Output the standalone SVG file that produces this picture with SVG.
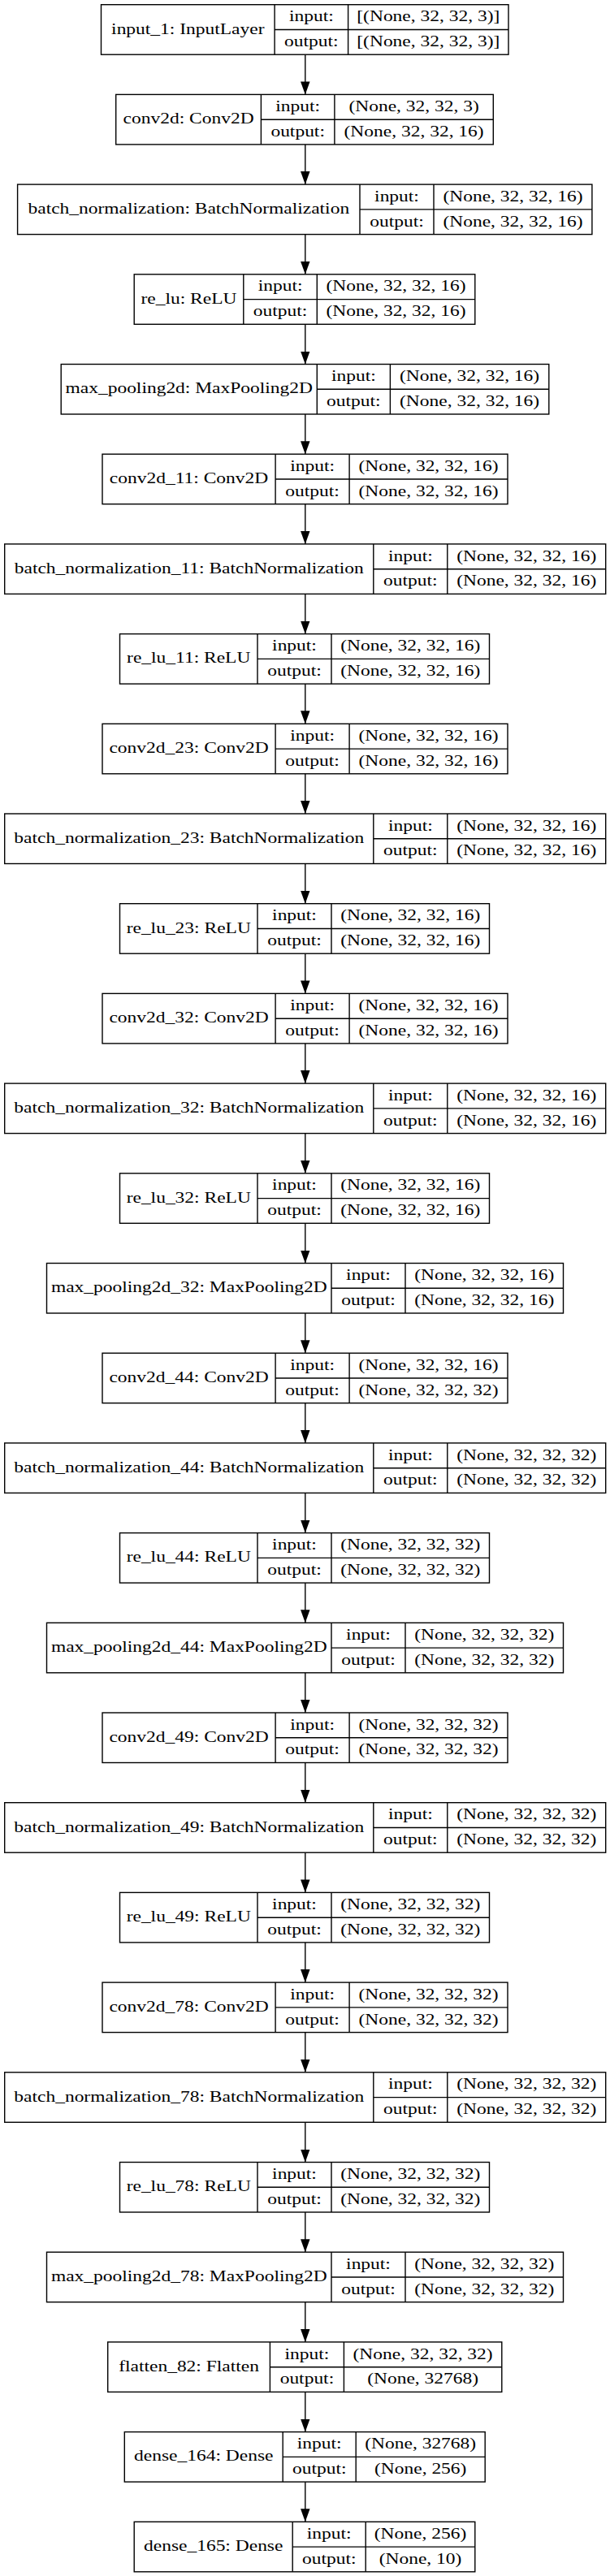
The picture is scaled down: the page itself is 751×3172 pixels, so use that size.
<svg xmlns="http://www.w3.org/2000/svg" width="751" height="3172" viewBox="0 0 751 3172">
<style>
.n rect{fill:#fff;stroke:#000;stroke-width:1.4}
.n path{fill:none;stroke:#000;stroke-width:1.4}
.n text{font-family:"Liberation Serif","Times New Roman",serif;font-size:18.2px;text-anchor:middle;fill:#000}
#edges path{fill:none;stroke:#000;stroke-width:1.4;marker-end:url(#ah)}
</style>
<defs>
<marker id="ah" markerUnits="userSpaceOnUse" viewBox="0 0 16 11.5" markerWidth="16" markerHeight="11.5" refX="16" refY="5.75" orient="auto">
<path d="M0,0L16,5.75L0,11.5z" fill="#000" stroke="none"/>
</marker>
</defs>
<rect x="0" y="0" width="751" height="3172" fill="#fff"/>
<g id="edges">
<path d="M375.8,67.2V116.4"/>
<path d="M375.8,177.9V227.1"/>
<path d="M375.8,288.6V337.8"/>
<path d="M375.8,399.3V448.5"/>
<path d="M375.8,510V559.2"/>
<path d="M375.8,620.7V669.9"/>
<path d="M375.8,731.4V780.6"/>
<path d="M375.8,842.1V891.3"/>
<path d="M375.8,952.8V1002"/>
<path d="M375.8,1063.5V1112.7"/>
<path d="M375.8,1174.2V1223.4"/>
<path d="M375.8,1284.9V1334.1"/>
<path d="M375.8,1395.6V1444.8"/>
<path d="M375.8,1506.3V1555.5"/>
<path d="M375.8,1617V1666.2"/>
<path d="M375.8,1727.7V1776.9"/>
<path d="M375.8,1838.4V1887.6"/>
<path d="M375.8,1949.1V1998.3"/>
<path d="M375.8,2059.8V2109"/>
<path d="M375.8,2170.5V2219.7"/>
<path d="M375.8,2281.2V2330.4"/>
<path d="M375.8,2391.9V2441.1"/>
<path d="M375.8,2502.6V2551.8"/>
<path d="M375.8,2613.3V2662.5"/>
<path d="M375.8,2724V2773.2"/>
<path d="M375.8,2834.7V2883.9"/>
<path d="M375.8,2945.4V2994.6"/>
<path d="M375.8,3056.1V3105.3"/>
</g>

<g id="input_1" class="n" transform="translate(0,5.7)">
<rect x="124.5" y="0" width="501.5" height="61.5"/>
<path d="M338.1,0V61.5M428.6,0V61.5M338.1,30.8H626"/>
<text transform="translate(231.3,35.8) scale(1.29,1)">input_1: InputLayer</text>
<text transform="translate(383.35,20.6) scale(1.29,1)">input:</text>
<text transform="translate(527.3,20.6) scale(1.29,1)">[(None, 32, 32, 3)]</text>
<text transform="translate(383.35,51.4) scale(1.29,1)">output:</text>
<text transform="translate(527.3,51.4) scale(1.29,1)">[(None, 32, 32, 3)]</text>
</g>

<g id="conv2d" class="n" transform="translate(0,116.4)">
<rect x="142.7" y="0" width="464.6" height="61.5"/>
<path d="M321.4,0V61.5M411.9,0V61.5M321.4,30.8H607.3"/>
<text transform="translate(232.05,35.8) scale(1.29,1)">conv2d: Conv2D</text>
<text transform="translate(366.65,20.6) scale(1.29,1)">input:</text>
<text transform="translate(509.6,20.6) scale(1.29,1)">(None, 32, 32, 3)</text>
<text transform="translate(366.65,51.4) scale(1.29,1)">output:</text>
<text transform="translate(509.6,51.4) scale(1.29,1)">(None, 32, 32, 16)</text>
</g>

<g id="batch_normalization" class="n" transform="translate(0,227.1)">
<rect x="21.6" y="0" width="707.3" height="61.5"/>
<path d="M443,0V61.5M534,0V61.5M443,30.8H728.9"/>
<text transform="translate(232.3,35.8) scale(1.29,1)">batch_normalization: BatchNormalization</text>
<text transform="translate(488.5,20.6) scale(1.29,1)">input:</text>
<text transform="translate(631.45,20.6) scale(1.29,1)">(None, 32, 32, 16)</text>
<text transform="translate(488.5,51.4) scale(1.29,1)">output:</text>
<text transform="translate(631.45,51.4) scale(1.29,1)">(None, 32, 32, 16)</text>
</g>

<g id="re_lu" class="n" transform="translate(0,337.8)">
<rect x="165.2" y="0" width="419.6" height="61.5"/>
<path d="M299.8,0V61.5M390.3,0V61.5M299.8,30.8H584.8"/>
<text transform="translate(232.5,35.8) scale(1.29,1)">re_lu: ReLU</text>
<text transform="translate(345.05,20.6) scale(1.29,1)">input:</text>
<text transform="translate(487.55,20.6) scale(1.29,1)">(None, 32, 32, 16)</text>
<text transform="translate(345.05,51.4) scale(1.29,1)">output:</text>
<text transform="translate(487.55,51.4) scale(1.29,1)">(None, 32, 32, 16)</text>
</g>

<g id="max_pooling2d" class="n" transform="translate(0,448.5)">
<rect x="75.2" y="0" width="600.6" height="61.5"/>
<path d="M390.3,0V61.5M480.4,0V61.5M390.3,30.8H675.8"/>
<text transform="translate(232.75,35.8) scale(1.29,1)">max_pooling2d: MaxPooling2D</text>
<text transform="translate(435.35,20.6) scale(1.29,1)">input:</text>
<text transform="translate(578.1,20.6) scale(1.29,1)">(None, 32, 32, 16)</text>
<text transform="translate(435.35,51.4) scale(1.29,1)">output:</text>
<text transform="translate(578.1,51.4) scale(1.29,1)">(None, 32, 32, 16)</text>
</g>

<g id="conv2d_11" class="n" transform="translate(0,559.2)">
<rect x="126" y="0" width="499" height="61.5"/>
<path d="M339.1,0V61.5M430.1,0V61.5M339.1,30.8H625"/>
<text transform="translate(232.55,35.8) scale(1.29,1)">conv2d_11: Conv2D</text>
<text transform="translate(384.6,20.6) scale(1.29,1)">input:</text>
<text transform="translate(527.55,20.6) scale(1.29,1)">(None, 32, 32, 16)</text>
<text transform="translate(384.6,51.4) scale(1.29,1)">output:</text>
<text transform="translate(527.55,51.4) scale(1.29,1)">(None, 32, 32, 16)</text>
</g>

<g id="batch_normalization_11" class="n" transform="translate(0,669.9)">
<rect x="5.7" y="0" width="740" height="61.5"/>
<path d="M459.8,0V61.5M550.8,0V61.5M459.8,30.8H745.7"/>
<text transform="translate(232.75,35.8) scale(1.29,1)">batch_normalization_11: BatchNormalization</text>
<text transform="translate(505.3,20.6) scale(1.29,1)">input:</text>
<text transform="translate(648.25,20.6) scale(1.29,1)">(None, 32, 32, 16)</text>
<text transform="translate(505.3,51.4) scale(1.29,1)">output:</text>
<text transform="translate(648.25,51.4) scale(1.29,1)">(None, 32, 32, 16)</text>
</g>

<g id="re_lu_11" class="n" transform="translate(0,780.6)">
<rect x="147.5" y="0" width="455" height="61.5"/>
<path d="M317,0V61.5M408,0V61.5M317,30.8H602.5"/>
<text transform="translate(232.25,35.8) scale(1.29,1)">re_lu_11: ReLU</text>
<text transform="translate(362.5,20.6) scale(1.29,1)">input:</text>
<text transform="translate(505.25,20.6) scale(1.29,1)">(None, 32, 32, 16)</text>
<text transform="translate(362.5,51.4) scale(1.29,1)">output:</text>
<text transform="translate(505.25,51.4) scale(1.29,1)">(None, 32, 32, 16)</text>
</g>

<g id="conv2d_23" class="n" transform="translate(0,891.3)">
<rect x="126" y="0" width="499" height="61.5"/>
<path d="M339.1,0V61.5M430.1,0V61.5M339.1,30.8H625"/>
<text transform="translate(232.55,35.8) scale(1.29,1)">conv2d_23: Conv2D</text>
<text transform="translate(384.6,20.6) scale(1.29,1)">input:</text>
<text transform="translate(527.55,20.6) scale(1.29,1)">(None, 32, 32, 16)</text>
<text transform="translate(384.6,51.4) scale(1.29,1)">output:</text>
<text transform="translate(527.55,51.4) scale(1.29,1)">(None, 32, 32, 16)</text>
</g>

<g id="batch_normalization_23" class="n" transform="translate(0,1002)">
<rect x="5.7" y="0" width="740" height="61.5"/>
<path d="M459.8,0V61.5M550.8,0V61.5M459.8,30.8H745.7"/>
<text transform="translate(232.75,35.8) scale(1.29,1)">batch_normalization_23: BatchNormalization</text>
<text transform="translate(505.3,20.6) scale(1.29,1)">input:</text>
<text transform="translate(648.25,20.6) scale(1.29,1)">(None, 32, 32, 16)</text>
<text transform="translate(505.3,51.4) scale(1.29,1)">output:</text>
<text transform="translate(648.25,51.4) scale(1.29,1)">(None, 32, 32, 16)</text>
</g>

<g id="re_lu_23" class="n" transform="translate(0,1112.7)">
<rect x="147.5" y="0" width="455" height="61.5"/>
<path d="M317,0V61.5M408,0V61.5M317,30.8H602.5"/>
<text transform="translate(232.25,35.8) scale(1.29,1)">re_lu_23: ReLU</text>
<text transform="translate(362.5,20.6) scale(1.29,1)">input:</text>
<text transform="translate(505.25,20.6) scale(1.29,1)">(None, 32, 32, 16)</text>
<text transform="translate(362.5,51.4) scale(1.29,1)">output:</text>
<text transform="translate(505.25,51.4) scale(1.29,1)">(None, 32, 32, 16)</text>
</g>

<g id="conv2d_32" class="n" transform="translate(0,1223.4)">
<rect x="126" y="0" width="499" height="61.5"/>
<path d="M339.1,0V61.5M430.1,0V61.5M339.1,30.8H625"/>
<text transform="translate(232.55,35.8) scale(1.29,1)">conv2d_32: Conv2D</text>
<text transform="translate(384.6,20.6) scale(1.29,1)">input:</text>
<text transform="translate(527.55,20.6) scale(1.29,1)">(None, 32, 32, 16)</text>
<text transform="translate(384.6,51.4) scale(1.29,1)">output:</text>
<text transform="translate(527.55,51.4) scale(1.29,1)">(None, 32, 32, 16)</text>
</g>

<g id="batch_normalization_32" class="n" transform="translate(0,1334.1)">
<rect x="5.7" y="0" width="740" height="61.5"/>
<path d="M459.8,0V61.5M550.8,0V61.5M459.8,30.8H745.7"/>
<text transform="translate(232.75,35.8) scale(1.29,1)">batch_normalization_32: BatchNormalization</text>
<text transform="translate(505.3,20.6) scale(1.29,1)">input:</text>
<text transform="translate(648.25,20.6) scale(1.29,1)">(None, 32, 32, 16)</text>
<text transform="translate(505.3,51.4) scale(1.29,1)">output:</text>
<text transform="translate(648.25,51.4) scale(1.29,1)">(None, 32, 32, 16)</text>
</g>

<g id="re_lu_32" class="n" transform="translate(0,1444.8)">
<rect x="147.5" y="0" width="455" height="61.5"/>
<path d="M317,0V61.5M408,0V61.5M317,30.8H602.5"/>
<text transform="translate(232.25,35.8) scale(1.29,1)">re_lu_32: ReLU</text>
<text transform="translate(362.5,20.6) scale(1.29,1)">input:</text>
<text transform="translate(505.25,20.6) scale(1.29,1)">(None, 32, 32, 16)</text>
<text transform="translate(362.5,51.4) scale(1.29,1)">output:</text>
<text transform="translate(505.25,51.4) scale(1.29,1)">(None, 32, 32, 16)</text>
</g>

<g id="max_pooling2d_32" class="n" transform="translate(0,1555.5)">
<rect x="57.5" y="0" width="636" height="61.5"/>
<path d="M408,0V61.5M499,0V61.5M408,30.8H693.5"/>
<text transform="translate(232.75,35.8) scale(1.29,1)">max_pooling2d_32: MaxPooling2D</text>
<text transform="translate(453.5,20.6) scale(1.29,1)">input:</text>
<text transform="translate(596.25,20.6) scale(1.29,1)">(None, 32, 32, 16)</text>
<text transform="translate(453.5,51.4) scale(1.29,1)">output:</text>
<text transform="translate(596.25,51.4) scale(1.29,1)">(None, 32, 32, 16)</text>
</g>

<g id="conv2d_44" class="n" transform="translate(0,1666.2)">
<rect x="126" y="0" width="499" height="61.5"/>
<path d="M339.1,0V61.5M430.1,0V61.5M339.1,30.8H625"/>
<text transform="translate(232.55,35.8) scale(1.29,1)">conv2d_44: Conv2D</text>
<text transform="translate(384.6,20.6) scale(1.29,1)">input:</text>
<text transform="translate(527.55,20.6) scale(1.29,1)">(None, 32, 32, 16)</text>
<text transform="translate(384.6,51.4) scale(1.29,1)">output:</text>
<text transform="translate(527.55,51.4) scale(1.29,1)">(None, 32, 32, 32)</text>
</g>

<g id="batch_normalization_44" class="n" transform="translate(0,1776.9)">
<rect x="5.7" y="0" width="740" height="61.5"/>
<path d="M459.8,0V61.5M550.8,0V61.5M459.8,30.8H745.7"/>
<text transform="translate(232.75,35.8) scale(1.29,1)">batch_normalization_44: BatchNormalization</text>
<text transform="translate(505.3,20.6) scale(1.29,1)">input:</text>
<text transform="translate(648.25,20.6) scale(1.29,1)">(None, 32, 32, 32)</text>
<text transform="translate(505.3,51.4) scale(1.29,1)">output:</text>
<text transform="translate(648.25,51.4) scale(1.29,1)">(None, 32, 32, 32)</text>
</g>

<g id="re_lu_44" class="n" transform="translate(0,1887.6)">
<rect x="147.5" y="0" width="455" height="61.5"/>
<path d="M317,0V61.5M408,0V61.5M317,30.8H602.5"/>
<text transform="translate(232.25,35.8) scale(1.29,1)">re_lu_44: ReLU</text>
<text transform="translate(362.5,20.6) scale(1.29,1)">input:</text>
<text transform="translate(505.25,20.6) scale(1.29,1)">(None, 32, 32, 32)</text>
<text transform="translate(362.5,51.4) scale(1.29,1)">output:</text>
<text transform="translate(505.25,51.4) scale(1.29,1)">(None, 32, 32, 32)</text>
</g>

<g id="max_pooling2d_44" class="n" transform="translate(0,1998.3)">
<rect x="57.5" y="0" width="636" height="61.5"/>
<path d="M408,0V61.5M499,0V61.5M408,30.8H693.5"/>
<text transform="translate(232.75,35.8) scale(1.29,1)">max_pooling2d_44: MaxPooling2D</text>
<text transform="translate(453.5,20.6) scale(1.29,1)">input:</text>
<text transform="translate(596.25,20.6) scale(1.29,1)">(None, 32, 32, 32)</text>
<text transform="translate(453.5,51.4) scale(1.29,1)">output:</text>
<text transform="translate(596.25,51.4) scale(1.29,1)">(None, 32, 32, 32)</text>
</g>

<g id="conv2d_49" class="n" transform="translate(0,2109)">
<rect x="126" y="0" width="499" height="61.5"/>
<path d="M339.1,0V61.5M430.1,0V61.5M339.1,30.8H625"/>
<text transform="translate(232.55,35.8) scale(1.29,1)">conv2d_49: Conv2D</text>
<text transform="translate(384.6,20.6) scale(1.29,1)">input:</text>
<text transform="translate(527.55,20.6) scale(1.29,1)">(None, 32, 32, 32)</text>
<text transform="translate(384.6,51.4) scale(1.29,1)">output:</text>
<text transform="translate(527.55,51.4) scale(1.29,1)">(None, 32, 32, 32)</text>
</g>

<g id="batch_normalization_49" class="n" transform="translate(0,2219.7)">
<rect x="5.7" y="0" width="740" height="61.5"/>
<path d="M459.8,0V61.5M550.8,0V61.5M459.8,30.8H745.7"/>
<text transform="translate(232.75,35.8) scale(1.29,1)">batch_normalization_49: BatchNormalization</text>
<text transform="translate(505.3,20.6) scale(1.29,1)">input:</text>
<text transform="translate(648.25,20.6) scale(1.29,1)">(None, 32, 32, 32)</text>
<text transform="translate(505.3,51.4) scale(1.29,1)">output:</text>
<text transform="translate(648.25,51.4) scale(1.29,1)">(None, 32, 32, 32)</text>
</g>

<g id="re_lu_49" class="n" transform="translate(0,2330.4)">
<rect x="147.5" y="0" width="455" height="61.5"/>
<path d="M317,0V61.5M408,0V61.5M317,30.8H602.5"/>
<text transform="translate(232.25,35.8) scale(1.29,1)">re_lu_49: ReLU</text>
<text transform="translate(362.5,20.6) scale(1.29,1)">input:</text>
<text transform="translate(505.25,20.6) scale(1.29,1)">(None, 32, 32, 32)</text>
<text transform="translate(362.5,51.4) scale(1.29,1)">output:</text>
<text transform="translate(505.25,51.4) scale(1.29,1)">(None, 32, 32, 32)</text>
</g>

<g id="conv2d_78" class="n" transform="translate(0,2441.1)">
<rect x="126" y="0" width="499" height="61.5"/>
<path d="M339.1,0V61.5M430.1,0V61.5M339.1,30.8H625"/>
<text transform="translate(232.55,35.8) scale(1.29,1)">conv2d_78: Conv2D</text>
<text transform="translate(384.6,20.6) scale(1.29,1)">input:</text>
<text transform="translate(527.55,20.6) scale(1.29,1)">(None, 32, 32, 32)</text>
<text transform="translate(384.6,51.4) scale(1.29,1)">output:</text>
<text transform="translate(527.55,51.4) scale(1.29,1)">(None, 32, 32, 32)</text>
</g>

<g id="batch_normalization_78" class="n" transform="translate(0,2551.8)">
<rect x="5.7" y="0" width="740" height="61.5"/>
<path d="M459.8,0V61.5M550.8,0V61.5M459.8,30.8H745.7"/>
<text transform="translate(232.75,35.8) scale(1.29,1)">batch_normalization_78: BatchNormalization</text>
<text transform="translate(505.3,20.6) scale(1.29,1)">input:</text>
<text transform="translate(648.25,20.6) scale(1.29,1)">(None, 32, 32, 32)</text>
<text transform="translate(505.3,51.4) scale(1.29,1)">output:</text>
<text transform="translate(648.25,51.4) scale(1.29,1)">(None, 32, 32, 32)</text>
</g>

<g id="re_lu_78" class="n" transform="translate(0,2662.5)">
<rect x="147.5" y="0" width="455" height="61.5"/>
<path d="M317,0V61.5M408,0V61.5M317,30.8H602.5"/>
<text transform="translate(232.25,35.8) scale(1.29,1)">re_lu_78: ReLU</text>
<text transform="translate(362.5,20.6) scale(1.29,1)">input:</text>
<text transform="translate(505.25,20.6) scale(1.29,1)">(None, 32, 32, 32)</text>
<text transform="translate(362.5,51.4) scale(1.29,1)">output:</text>
<text transform="translate(505.25,51.4) scale(1.29,1)">(None, 32, 32, 32)</text>
</g>

<g id="max_pooling2d_78" class="n" transform="translate(0,2773.2)">
<rect x="57.5" y="0" width="636" height="61.5"/>
<path d="M408,0V61.5M499,0V61.5M408,30.8H693.5"/>
<text transform="translate(232.75,35.8) scale(1.29,1)">max_pooling2d_78: MaxPooling2D</text>
<text transform="translate(453.5,20.6) scale(1.29,1)">input:</text>
<text transform="translate(596.25,20.6) scale(1.29,1)">(None, 32, 32, 32)</text>
<text transform="translate(453.5,51.4) scale(1.29,1)">output:</text>
<text transform="translate(596.25,51.4) scale(1.29,1)">(None, 32, 32, 32)</text>
</g>

<g id="flatten_82" class="n" transform="translate(0,2883.9)">
<rect x="132.7" y="0" width="485.1" height="61.5"/>
<path d="M332.4,0V61.5M423.4,0V61.5M332.4,30.8H617.8"/>
<text transform="translate(232.55,35.8) scale(1.29,1)">flatten_82: Flatten</text>
<text transform="translate(377.9,20.6) scale(1.29,1)">input:</text>
<text transform="translate(520.6,20.6) scale(1.29,1)">(None, 32, 32, 32)</text>
<text transform="translate(377.9,51.4) scale(1.29,1)">output:</text>
<text transform="translate(520.6,51.4) scale(1.29,1)">(None, 32768)</text>
</g>

<g id="dense_164" class="n" transform="translate(0,2994.6)">
<rect x="153.3" y="0" width="443.9" height="61.5"/>
<path d="M348.2,0V61.5M438.2,0V61.5M348.2,30.8H597.2"/>
<text transform="translate(250.75,35.8) scale(1.29,1)">dense_164: Dense</text>
<text transform="translate(393.2,20.6) scale(1.29,1)">input:</text>
<text transform="translate(517.7,20.6) scale(1.29,1)">(None, 32768)</text>
<text transform="translate(393.2,51.4) scale(1.29,1)">output:</text>
<text transform="translate(517.7,51.4) scale(1.29,1)">(None, 256)</text>
</g>

<g id="dense_165" class="n" transform="translate(0,3105.3)">
<rect x="165.2" y="0" width="419.6" height="61.5"/>
<path d="M360.2,0V61.5M450.2,0V61.5M360.2,30.8H584.8"/>
<text transform="translate(262.7,35.8) scale(1.29,1)">dense_165: Dense</text>
<text transform="translate(405.2,20.6) scale(1.29,1)">input:</text>
<text transform="translate(517.5,20.6) scale(1.29,1)">(None, 256)</text>
<text transform="translate(405.2,51.4) scale(1.29,1)">output:</text>
<text transform="translate(517.5,51.4) scale(1.29,1)">(None, 10)</text>
</g>
</svg>
